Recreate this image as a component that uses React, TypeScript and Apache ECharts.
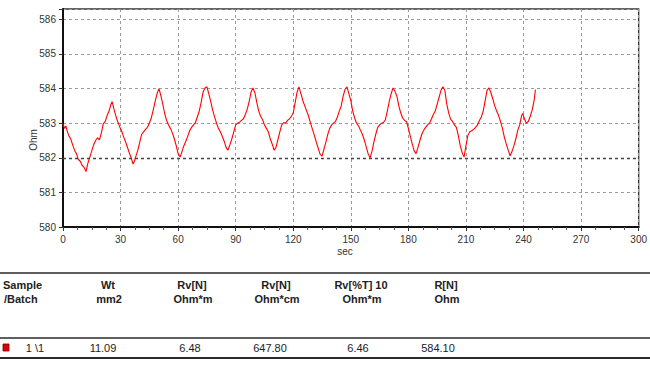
import React, { useEffect, useRef } from "react";
import * as echarts from "echarts";

// ---- Data ----
const seconds: number[] = [
  0, 0.8, 1.5, 2.3, 3.2, 4, 5, 6, 7, 8, 9, 10, 11, 12, 13, 14, 15, 16, 17, 18, 19, 20,
  21, 22, 23, 24, 25, 25.6, 26.5, 27.5, 28.5, 29.5, 30.5, 31.5, 32.5, 33.5, 34.5, 35.5, 36.5, 37.2,
  38, 39, 40, 41, 42, 43, 44, 45, 46, 47, 48, 49, 50, 51, 52, 53, 54, 55, 56, 57, 58, 59,
  60, 61, 62, 63, 64, 65, 66, 67, 68, 69, 70, 71, 72, 73, 74, 75, 76, 77, 78, 79,
  80, 81, 82, 83, 84, 85, 86, 87, 88, 89, 90, 91, 92, 93, 94, 95, 96, 97, 98, 99,
  100, 101, 102, 103, 104, 105, 106, 107, 108, 109, 110, 111, 112, 113, 114, 115, 116, 117, 118, 119,
  120, 121, 122, 123, 124, 125, 126, 127, 128, 129, 130, 131, 132, 133, 134, 135, 136, 137, 138, 139,
  140, 141, 142, 143, 144, 145, 146, 147, 148, 149, 150, 151, 152, 153, 154, 155, 156, 157, 158, 159,
  160, 161, 162, 163, 164, 165, 166, 167, 168, 169, 170, 171, 172, 173, 174, 175, 176, 177, 178, 179,
  180, 181, 182, 183, 184, 185, 186, 187, 188, 189, 190, 191, 192, 193, 194, 195, 196, 197, 198, 199,
  200, 201, 202, 203, 204, 205, 206, 207, 208, 209, 210, 211, 212, 213, 214, 215, 216, 217, 218, 219,
  220, 221, 222, 223, 224, 225, 226, 227, 228, 229, 230, 231, 232, 233, 234, 235, 236, 237, 238, 239,
  239.6, 240.5, 241.5, 242.5, 243.5, 244.5, 245.5, 246.2,
];

const ohms: number[] = [
  582.98, 582.85, 582.92, 582.75, 582.62, 582.55, 582.38, 582.22, 582.12, 581.95, 581.9, 581.78, 581.72, 581.6, 581.85, 582.02, 582.2, 582.38, 582.5, 582.58, 582.52, 582.72,
  582.98, 583.05, 583.22, 583.35, 583.55, 583.62, 583.42, 583.22, 583.05, 582.9, 582.78, 582.62, 582.48, 582.32, 582.15, 582.0, 581.82, 581.9,
  582.05, 582.22, 582.45, 582.68, 582.75, 582.82, 582.88, 583.0, 583.15, 583.38, 583.62, 583.85, 584.0, 583.8, 583.55, 583.28, 583.08, 582.95, 582.85, 582.72, 582.55, 582.35,
  582.12, 582.02, 582.18, 582.35, 582.48, 582.62, 582.78, 582.88, 582.95, 583.02, 583.18, 583.35, 583.6, 583.9, 584.02, 584.05, 583.85, 583.62, 583.38, 583.18,
  583.0, 582.85, 582.75, 582.62, 582.48, 582.3, 582.22, 582.38, 582.55, 582.75, 582.95, 583.0, 583.03, 583.08, 583.12, 583.25, 583.4, 583.62, 583.9, 584.02,
  583.88, 583.6, 583.35, 583.2, 583.1, 582.95, 582.85, 582.75, 582.55, 582.4, 582.22, 582.3, 582.52, 582.75, 582.95, 583.02, 583.0, 583.08, 583.12, 583.2,
  583.3, 583.6, 583.9, 584.05, 583.85, 583.65, 583.5, 583.35, 583.2, 583.0, 582.82, 582.65, 582.45, 582.28, 582.1, 582.05, 582.25, 582.45, 582.68, 582.85,
  582.95, 583.0, 583.05, 583.18, 583.35, 583.5, 583.78, 583.98, 584.05, 583.85, 583.65, 583.35, 583.15, 583.0, 582.92, 582.8, 582.68, 582.52, 582.32, 582.12,
  582.0, 582.18, 582.45, 582.68, 582.88, 582.95, 583.0, 583.02, 583.1, 583.35, 583.62, 583.85, 584.02, 583.92, 583.78, 583.5, 583.3, 583.15, 583.08, 583.05,
  582.85, 582.62, 582.4, 582.2, 582.12, 582.3, 582.5, 582.68, 582.8, 582.88, 582.95, 583.0, 583.12, 583.25, 583.35, 583.55, 583.75, 583.95, 584.05, 583.95,
  583.55, 583.3, 583.12, 583.05, 582.95, 582.88, 582.65, 582.35, 582.15, 582.02, 582.35, 582.65, 582.75, 582.78, 582.82, 582.88, 582.95, 583.08, 583.18, 583.35,
  583.65, 583.95, 584.02, 583.88, 583.7, 583.5, 583.35, 583.22, 583.05, 582.85, 582.6, 582.4, 582.22, 582.06, 582.18, 582.35, 582.55, 582.8, 582.95, 583.22,
  583.28, 583.12, 583.0, 583.05, 583.2, 583.38, 583.65, 583.97,
];

const referenceLine = 582;

const headerTop: string[] = ["Sample", "Wt", "Rv[N]", "Rv[N]", "Rv[%T] 10", "R[N]"];
const headerBottom: string[] = ["/Batch", "mm2", "Ohm*m", "Ohm*cm", "Ohm*m", "Ohm"];
const rowValues: string[] = ["1 \\1", "11.09", "6.48", "647.80", "6.46", "584.10"];

// layout (pixels) for the table
const colCenters = [0, 108, 192, 276, 361, 446];

export default function App() {
  const ref = useRef<HTMLDivElement>(null);

  useEffect(() => {
    if (!ref.current) return;
    const chart = echarts.init(ref.current, undefined, { renderer: "svg" });
    const font = "'Liberation Sans', Arial, sans-serif";
    const data = seconds.map((s, i) => [s, ohms[i]]);

    const graphics: any[] = [];
    // table lines
    graphics.push({ type: "line", shape: { x1: 0, y1: 273, x2: 650, y2: 273 }, style: { stroke: "#2a2a2a", lineWidth: 1.6 } });
    graphics.push({ type: "line", shape: { x1: 0, y1: 338, x2: 650, y2: 338 }, style: { stroke: "#2a2a2a", lineWidth: 1.4 } });
    graphics.push({ type: "line", shape: { x1: 0, y1: 358, x2: 650, y2: 358 }, style: { stroke: "#2a2a2a", lineWidth: 2 } });

    headerTop.forEach((t, i) => {
      const left = i === 0;
      graphics.push({
        type: "text",
        x: left ? 3 : colCenters[i],
        y: 285,
        style: { text: t, font: `bold 11px ${font}`, fill: "#222", align: left ? "left" : "center", verticalAlign: "middle" },
      });
      graphics.push({
        type: "text",
        x: left ? 4 : colCenters[i] + 1,
        y: 299,
        style: { text: headerBottom[i], font: `bold 11px ${font}`, fill: "#222", align: left ? "left" : "center", verticalAlign: "middle" },
      });
    });

    // red marker
    graphics.push({ type: "rect", shape: { x: 3, y: 344, width: 6, height: 7 }, style: { fill: "#e00000", stroke: "#700", lineWidth: 0.8 } });
    const valueCenters = [35, 103, 190, 270, 358, 438];
    rowValues.forEach((v, i) => {
      graphics.push({
        type: "text",
        x: valueCenters[i],
        y: 348,
        style: { text: v, font: `11px ${font}`, fill: "#222", align: "center", verticalAlign: "middle" },
      });
    });

    // axis titles
    graphics.push({
      type: "text",
      x: 33,
      y: 140,
      rotation: Math.PI / 2,
      style: { text: "Ohm", font: `10px ${font}`, fill: "#333", align: "center", verticalAlign: "middle" },
    });
    graphics.push({
      type: "text",
      x: 345,
      y: 251,
      style: { text: "sec", font: `10px ${font}`, fill: "#333", align: "center", verticalAlign: "middle" },
    });

    chart.setOption({
      animation: false,
      backgroundColor: "#ffffff",
      grid: {
        left: 63,
        right: 11,
        top: 9,
        bottom: 159,
        show: true,
        borderColor: "#333",
        borderWidth: 1.4,
        backgroundColor: "#fff",
      },
      xAxis: {
        type: "value",
        min: 0,
        max: 300,
        interval: 30,
        axisLine: { show: true, lineStyle: { color: "#111", width: 2 } },
        axisTick: { show: true, length: 4, lineStyle: { color: "#333" } },
        minorTick: { show: true, splitNumber: 4, length: 3, lineStyle: { color: "#555" } },
        axisLabel: { color: "#333", fontSize: 10, fontFamily: font, margin: 7 },
        splitLine: { show: true, lineStyle: { color: "#9a9a9a", type: [3, 3], width: 1 } },
      },
      yAxis: {
        type: "value",
        min: 580,
        max: 586.3,
        interval: 1,
        axisLine: { show: true, lineStyle: { color: "#111", width: 2 } },
        axisTick: { show: true, length: 4, lineStyle: { color: "#333" } },
        axisLabel: {
          color: "#333",
          fontSize: 10,
          fontFamily: font,
          margin: 7,
          formatter: (v: number) => (Math.abs(v - Math.round(v)) < 1e-6 ? String(Math.round(v)) : ""),
        },
        splitLine: { show: true, lineStyle: { color: "#9a9a9a", type: [3, 3], width: 1 } },
      },
      series: [
        {
          type: "line",
          data,
          showSymbol: false,
          symbol: "none",
          lineStyle: { color: "#ff0000", width: 1.1 },
          markLine: {
            silent: true,
            symbol: "none",
            label: { show: false },
            lineStyle: { color: "#444", type: [3, 3], width: 1.4 },
            data: [{ yAxis: referenceLine }],
          },
          z: 3,
        },
      ],
      graphic: graphics,
    });

    return () => chart.dispose();
  }, []);

  return (
    <div
      ref={ref}
      style={{ position: "absolute", left: 0, top: 0, width: 650, height: 386, background: "#fff" }}
    />
  );
}
